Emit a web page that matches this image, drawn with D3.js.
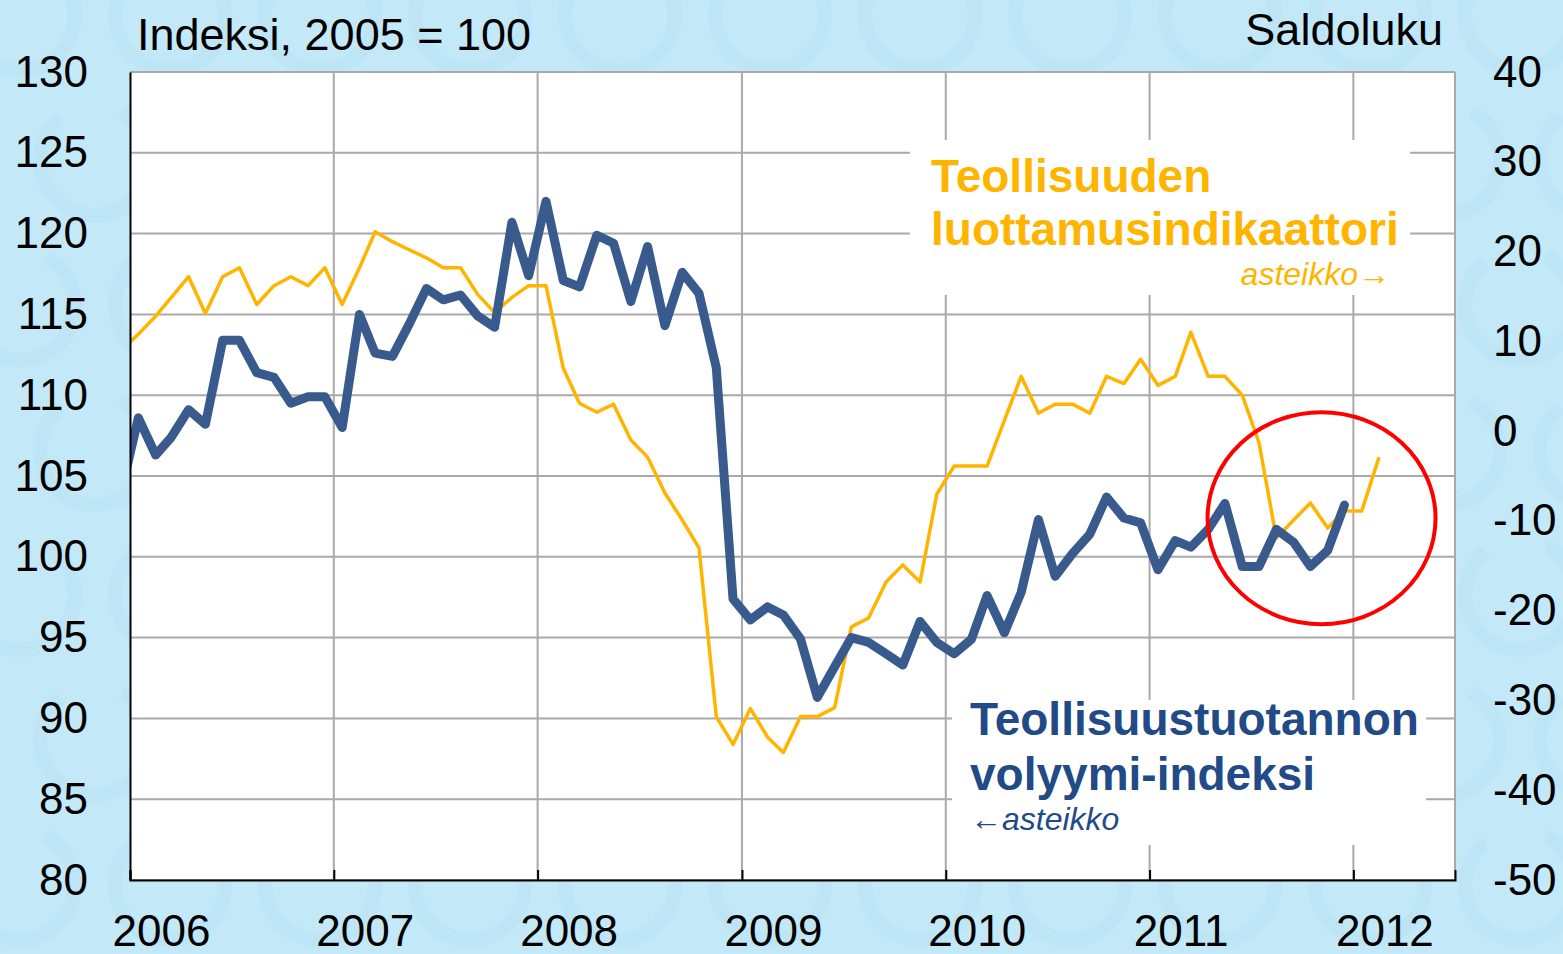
<!DOCTYPE html>
<html>
<head>
<meta charset="utf-8">
<script src="https://cdn.jsdelivr.net/npm/d3@7"></script>
<style>
  body { margin: 0; background: #c3e8f8; }
  svg { display: block; }
  text { font-family: "Liberation Sans", Arial, sans-serif; }
</style>
</head>
<body>
<div id="vis"></div>
<script>
const WIDTH = 1563;
const HEIGHT = 954;
const PLOT = {left: 130, right: 1455, top: 72, bottom: 880};

// first month of both series (Dec 2005 is cut off at the left edge)
const START_MONTH = "2005-12";

// Teollisuustuotannon volyymi-indeksi, 2005 = 100 (left scale)
const production = [
  104.0,
  108.6, 106.3, 107.4, 109.1, 108.2, 113.4, 113.4, 111.4, 111.1, 109.5, 109.9, 109.9,
  108.0, 115.0, 112.6, 112.4, 114.4, 116.6, 115.9, 116.2, 114.9, 114.2, 120.7, 117.4,
  122.0, 117.1, 116.7, 119.9, 119.4, 115.8, 119.2, 114.3, 117.6, 116.3, 111.7, 97.4,
  96.1, 96.9, 96.4, 94.9, 91.3, 93.2, 95.0, 94.7, 94.0, 93.3, 96.0, 94.7,
  94.0, 94.9, 97.6, 95.3, 97.8, 102.3, 98.8, 100.2, 101.4, 103.7, 102.4, 102.1,
  99.2, 101.0, 100.6, 101.7, 103.3, 99.4, 99.4, 101.7, 100.9, 99.4, 100.4, 103.2
];

// Teollisuuden luottamusindikaattori, saldoluku (right scale)
const confidence = [
  9.0,
  10.8, 12.8, 14.9, 17.2, 13.1, 17.2, 18.2, 14.1, 16.2, 17.2, 16.2, 18.2,
  14.1, 18.2, 22.2, 21.1, 20.2, 19.3, 18.2, 18.2, 15.2, 13.2, 14.9, 16.2,
  16.2, 7.0, 3.1, 2.1, 3.0, -1.0, -2.9, -6.9, -9.9, -13.0, -31.8, -34.9,
  -30.9, -34.1, -35.8, -31.8, -31.8, -30.8, -21.8, -20.8, -16.8, -14.9, -16.8, -7.0,
  -3.9, -3.9, -3.9, 1.2, 6.1, 2.0, 3.0, 3.0, 2.0, 6.1, 5.3, 8.0,
  5.1, 6.1, 11.0, 6.1, 6.1, 4.0, -1.3, -11.9, -9.9, -8.0, -10.8, -8.9,
  -8.9, -2.9
];

const leftTicks = [80, 85, 90, 95, 100, 105, 110, 115, 120, 125, 130];
const rightTicks = [-50, -40, -30, -20, -10, 0, 10, 20, 30, 40];
const yearLabels = ["2006", "2007", "2008", "2009", "2010", "2011", "2012"];

const BLUE = "#385a8c";
const YELLOW = "#ffb400";
const LABEL_BLUE = "#214a86";
const GRID = "#a9a9a9";

const parseMonth = d3.timeParse("%Y-%m");
const start = parseMonth(START_MONTH);
// points sit in the middle of each month
const monthDate = (i) => d3.timeDay.offset(d3.timeMonth.offset(start, i), 15);

const svg = d3.select("#vis")
  .append("svg")
    .attr("width", WIDTH)
    .attr("height", HEIGHT);

// background with faint coin-like watermark rings
const bg = svg.append("g");
bg.append("rect")
  .attr("width", WIDTH).attr("height", HEIGHT)
  .attr("fill", "#c3e8f8");
const ring = d3.arc().innerRadius(48).outerRadius(62).startAngle(0.5).endAngle(5.6);
for (let r = 0; r < 7; r++) {
  for (let c = 0; c < 12; c++) {
    bg.append("path")
      .attr("transform", "translate(" + (c * 150 + 20 + (r % 2) * 75) + "," + (r * 145 + 15) + ")")
      .attr("d", ring())
      .attr("fill", "#b1dff3")
      .attr("opacity", 0.35);
  }
}

const x = d3.scaleTime()
  .domain([new Date(2006, 0, 1), new Date(2012, 6, 1)])
  .range([PLOT.left, PLOT.right]);

const yLeft = d3.scaleLinear()
  .domain([80, 130])
  .range([PLOT.bottom, PLOT.top]);

const yRight = d3.scaleLinear()
  .domain([-50, 40])
  .range([PLOT.bottom, PLOT.top]);

// plot area
svg.append("rect")
  .attr("x", PLOT.left).attr("y", PLOT.top)
  .attr("width", PLOT.right - PLOT.left)
  .attr("height", PLOT.bottom - PLOT.top)
  .attr("fill", "white");

svg.append("clipPath").attr("id", "plotclip")
  .append("rect")
    .attr("x", PLOT.left).attr("y", PLOT.top)
    .attr("width", PLOT.right - PLOT.left)
    .attr("height", PLOT.bottom - PLOT.top);

const yearDates = yearLabels.map((y) => new Date(+y, 0, 1));

// grid lines
const grid = svg.append("g");
grid.selectAll(".hgrid")
  .data(leftTicks)
  .enter()
  .append("line")
    .attr("x1", PLOT.left).attr("x2", PLOT.right)
    .attr("y1", (d) => yLeft(d)).attr("y2", (d) => yLeft(d))
    .attr("stroke", GRID).attr("stroke-width", 2);
grid.selectAll(".vgrid")
  .data(yearDates.slice(1))
  .enter()
  .append("line")
    .attr("x1", (d) => x(d)).attr("x2", (d) => x(d))
    .attr("y1", PLOT.top).attr("y2", PLOT.bottom)
    .attr("stroke", GRID).attr("stroke-width", 2);
grid.append("line")
  .attr("x1", PLOT.right).attr("x2", PLOT.right)
  .attr("y1", PLOT.top).attr("y2", PLOT.bottom)
  .attr("stroke", GRID).attr("stroke-width", 2);

// white boxes behind the series labels
svg.append("rect")
  .attr("x", 910).attr("y", 140).attr("width", 500).attr("height", 155)
  .attr("fill", "white");
svg.append("rect")
  .attr("x", 952).attr("y", 700).attr("width", 474).attr("height", 145)
  .attr("fill", "white");

// series
const lines = svg.append("g").attr("clip-path", "url(#plotclip)");

lines.append("path")
  .datum(confidence)
  .attr("fill", "none")
  .attr("stroke", YELLOW)
  .attr("stroke-width", 3.5)
  .attr("stroke-linejoin", "round")
  .attr("d", d3.line()
    .x((d, i) => x(monthDate(i)))
    .y((d) => yRight(d)));

lines.append("path")
  .datum(production)
  .attr("fill", "none")
  .attr("stroke", BLUE)
  .attr("stroke-width", 9)
  .attr("stroke-linejoin", "round")
  .attr("stroke-linecap", "round")
  .attr("d", d3.line()
    .x((d, i) => x(monthDate(i)))
    .y((d) => yLeft(d)));

// axes
const axisLeft = svg.append("g")
  .attr("transform", "translate(" + PLOT.left + ",0)")
  .call(d3.axisLeft(yLeft).tickValues(leftTicks).tickSize(0).tickPadding(42));
axisLeft.select(".domain").attr("stroke", "black").attr("stroke-width", 2);
axisLeft.selectAll("text")
  .attr("font-size", 44).attr("fill", "black")
  .attr("font-family", "Liberation Sans, Arial, sans-serif");

const axisRight = svg.append("g")
  .attr("transform", "translate(" + PLOT.right + ",0)")
  .call(d3.axisRight(yRight).tickValues(rightTicks).tickSize(0).tickPadding(38)
    .tickFormat((d) => String(d)));
axisRight.select(".domain").remove();
axisRight.selectAll("text")
  .attr("font-size", 44).attr("fill", "black")
  .attr("font-family", "Liberation Sans, Arial, sans-serif");

const axisBottom = svg.append("g")
  .attr("transform", "translate(0," + PLOT.bottom + ")")
  .call(d3.axisBottom(x).tickValues(yearDates).tickSize(-10).tickFormat(d3.timeFormat("%Y")));
axisBottom.select(".domain").attr("stroke", "black").attr("stroke-width", 2);
axisBottom.selectAll("line").attr("stroke", "black").attr("stroke-width", 2);
axisBottom.selectAll("text")
  .attr("font-size", 44).attr("fill", "black")
  .attr("font-family", "Liberation Sans, Arial, sans-serif")
  .attr("x", 31).attr("y", 66).attr("dy", 0);

// titles
svg.append("text")
  .attr("x", 137).attr("y", 50)
  .attr("font-size", 45)
  .text("Indeksi, 2005 = 100");
svg.append("text")
  .attr("x", 1443).attr("y", 45)
  .attr("text-anchor", "end")
  .attr("font-size", 45)
  .text("Saldoluku");

// series labels
svg.append("text")
  .attr("x", 931).attr("y", 192)
  .attr("font-size", 46).attr("font-weight", "bold").attr("fill", YELLOW)
  .text("Teollisuuden");
svg.append("text")
  .attr("x", 931).attr("y", 245)
  .attr("font-size", 46).attr("font-weight", "bold").attr("fill", YELLOW)
  .text("luottamusindikaattori");
svg.append("text")
  .attr("x", 1390).attr("y", 285)
  .attr("text-anchor", "end")
  .attr("font-size", 32).attr("font-style", "italic").attr("fill", YELLOW)
  .text("asteikko→");

svg.append("text")
  .attr("x", 970).attr("y", 735)
  .attr("font-size", 46).attr("font-weight", "bold").attr("fill", LABEL_BLUE)
  .text("Teollisuustuotannon");
svg.append("text")
  .attr("x", 970).attr("y", 790)
  .attr("font-size", 46).attr("font-weight", "bold").attr("fill", LABEL_BLUE)
  .text("volyymi-indeksi");
svg.append("text")
  .attr("x", 970).attr("y", 830)
  .attr("font-size", 32).attr("font-style", "italic").attr("fill", LABEL_BLUE)
  .text("←asteikko");

// highlight of the latest months
svg.append("ellipse")
  .attr("cx", x(new Date(2011, 10, 5))).attr("cy", yRight(-9.7))
  .attr("rx", 114).attr("ry", 106)
  .attr("fill", "none")
  .attr("stroke", "#ff0000")
  .attr("stroke-width", 4);
</script>
</body>
</html>
